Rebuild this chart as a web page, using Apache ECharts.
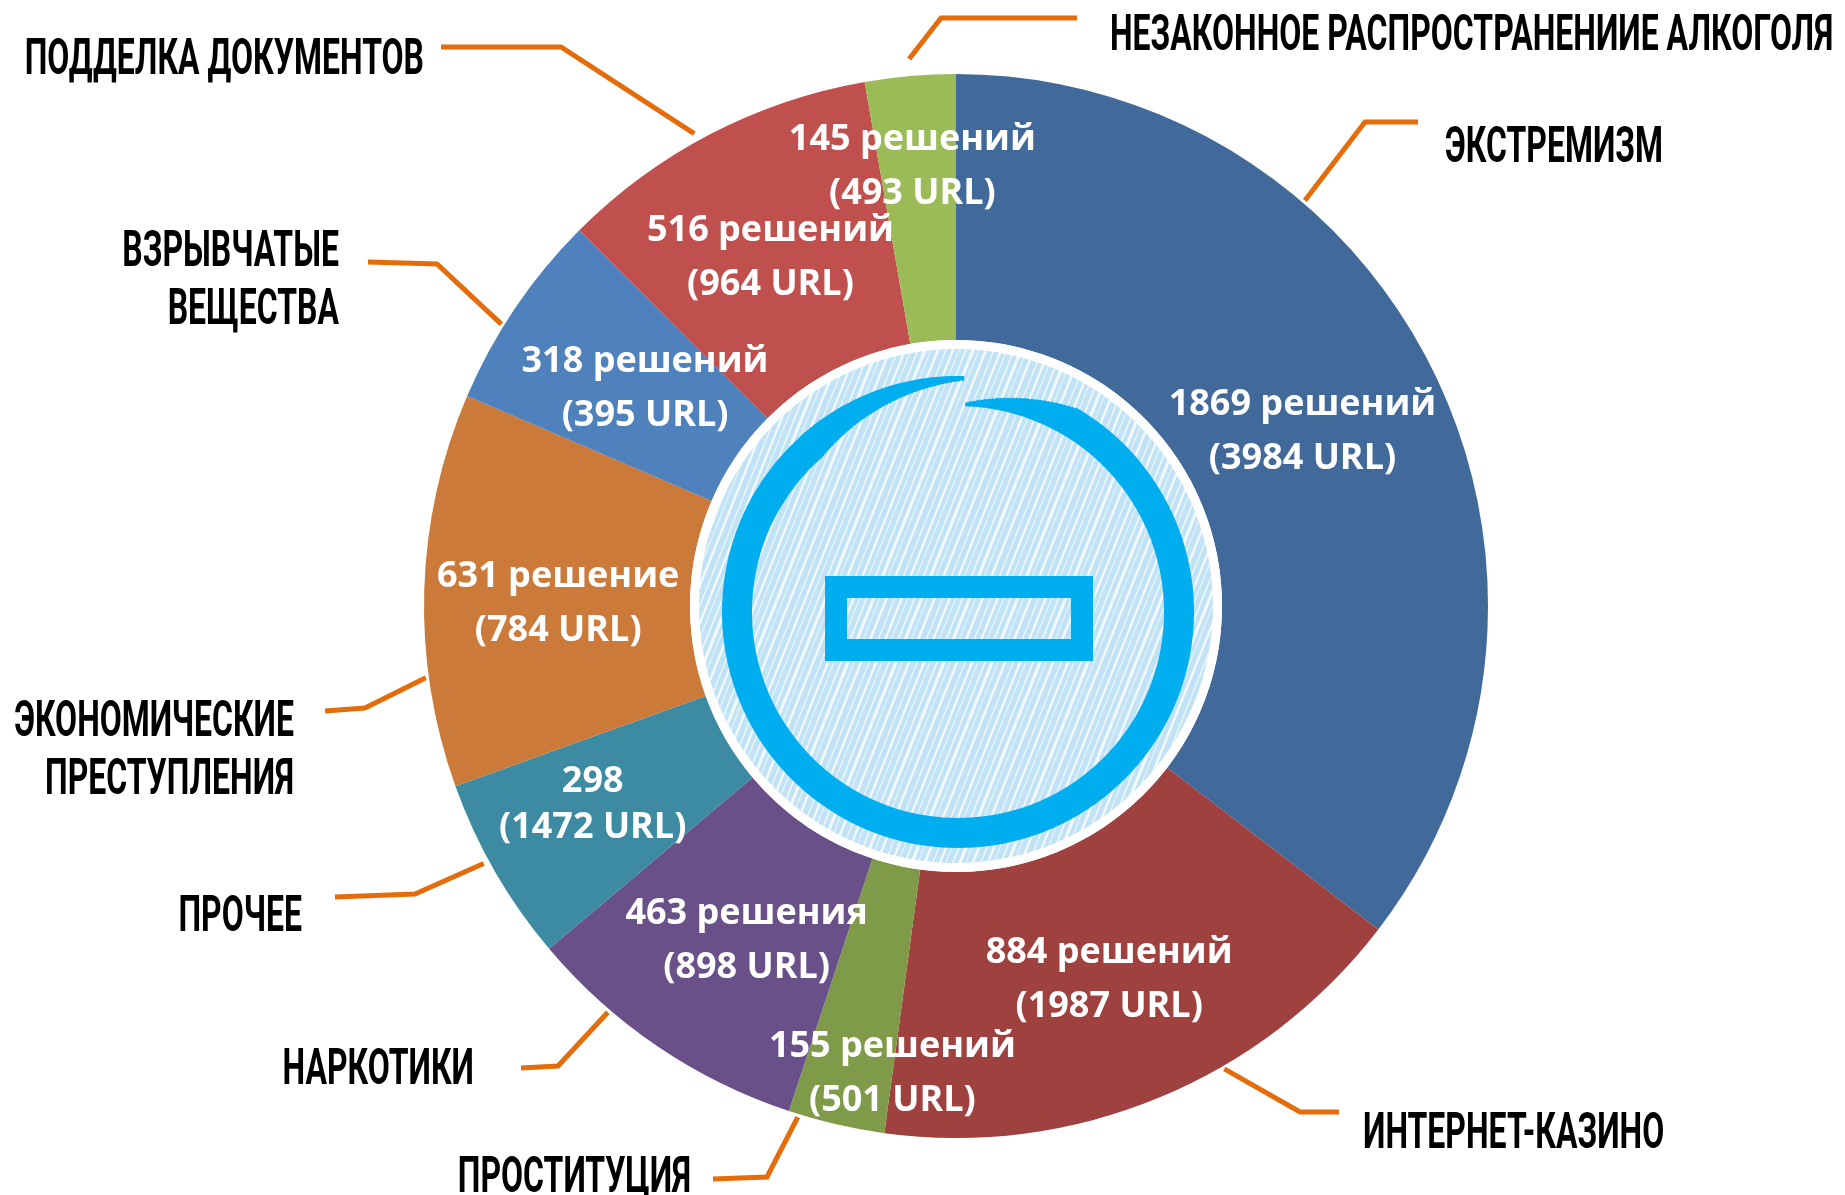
<!DOCTYPE html>
<html>
<head>
<meta charset="utf-8">
<script src="https://cdn.jsdelivr.net/npm/echarts@6/dist/echarts.min.js"></script>
<style>
  html, body { margin: 0; padding: 0; background: #fff; }
  #chart { width: 1845px; height: 1195px; }
</style>
</head>
<body>
<div id="chart"></div>
<script>
// data, clockwise from the top
var categories = ['ЭКСТРЕМИЗМ', 'ИНТЕРНЕТ-КАЗИНО', 'ПРОСТИТУЦИЯ', 'НАРКОТИКИ', 'ПРОЧЕЕ',
  'ЭКОНОМИЧЕСКИЕ\nПРЕСТУПЛЕНИЯ', 'ВЗРЫВЧАТЫЕ\nВЕЩЕСТВА', 'ПОДДЕЛКА ДОКУМЕНТОВ',
  'НЕЗАКОННОЕ РАСПРОСТРАНЕНИИЕ АЛКОГОЛЯ']
var decisions = [1869, 884, 155, 463, 298, 631, 318, 516, 145]
var urls = [3984, 1987, 501, 898, 1472, 784, 395, 964, 493]
var decisionWords = ['решений', 'решений', 'решений', 'решения', '', 'решение', 'решений', 'решений', 'решений']

var colors = ['#41699a', '#9e413f', '#7f9a48', '#6a5088', '#3d8ba3', '#cb7a39', '#4f81bd', '#c0504d', '#9bbb59']

var CX = 956, CY = 606, R0 = 266, R1 = 532

// label nudges for inside labels
var innerShift = [[-14, 4], [0, 2], [27, 76], [16, 2], [-15, -2], [4, 10], [22, 8], [0, 8], [-9, -39]]

// outside labels + leader lines
var outerLayout = [
  { angle: 40.7, r: 535, elbow: [1365, 122], end: [1418, 122], label: [1445, 149], align: 'left' },
  { angle: 149.9, r: 535, elbow: [1300, 1112], end: [1339, 1112], label: [1363, 1135], align: 'left' },
  { angle: 197.2, r: 535, elbow: [767, 1177], end: [713, 1179], label: [691, 1179], align: 'right' },
  { angle: 220.6, r: 535, elbow: [558, 1066], end: [521, 1068], label: [474, 1071], align: 'right' },
  { angle: 241.4, r: 538, elbow: [415, 894], end: [335, 897], label: [302, 918], align: 'right' },
  { angle: 262.3, r: 535, elbow: [365, 708], end: [325, 711], label: [294, 752], align: 'right' },
  { angle: 301.8, r: 535, elbow: [437, 264], end: [368, 262], label: [339, 282], align: 'right' },
  { angle: 331, r: 540, elbow: [561, 47], end: [441, 47], label: [424, 61], align: 'right' },
  { angle: -4.9, r: 549, elbow: [941, 18], end: [1077, 18], label: [1110, 37], align: 'left' }
]
var outerFont = 'bold 50px Roboto'
var outerScaleX = 0.64

var pieData = categories.map(function (name, i) {
  return { name: name, value: decisions[i], itemStyle: { color: colors[i] } }
})

function hatch() {
  var c = document.createElement('canvas')
  c.width = 48
  c.height = 120
  var g = c.getContext('2d')
  g.fillStyle = '#c2e3f5'
  g.fillRect(0, 0, 48, 120)
  var offs = [2, 9, 15, 22, 30, 37, 43]
  var widths = [1.5, 3, 1, 2.5, 1.2, 2.2, 1]
  g.strokeStyle = 'rgba(255,255,255,0.8)'
  offs.forEach(function (x0, k) {
    g.lineWidth = widths[k]
    ;[x0 - 48, x0].forEach(function (x) {
      g.beginPath()
      g.moveTo(x, 120)
      g.lineTo(x + 48, 0)
      g.stroke()
    })
  })
  return c
}

var deg = Math.PI / 180
function ring(r, a0, a1, w) {
  return {
    type: 'arc', z: 12,
    shape: { cx: 958, cy: 612, r: r, startAngle: a0 * deg, endAngle: a1 * deg, clockwise: true },
    style: { stroke: '#00aeef', lineWidth: w, fill: null, lineCap: 'butt' }
  }
}

// brush ring: thick body, tapering ends near the top
var logo = [ring(221, -60, 229, 30)]
for (var a = 228; a < 271; a++) {
  var wl = 30 - (a - 228) * 26 / 43
  logo.push(ring(236 - wl / 2, a, a + 1.5, wl))
}
for (var b = 272; b < 300; b++) {
  var wr = 4 + (b - 272) * 26 / 28
  logo.push(ring(206 + wr / 2, b, b + 1.5, wr))
}
logo.push({ type: 'rect', z: 12, shape: { x: 836, y: 587, width: 246, height: 63 },
  style: { stroke: '#00aeef', lineWidth: 22, fill: null } })

var outerTexts = categories.map(function (name, i) {
  var L = outerLayout[i]
  return {
    type: 'text', z: 20,
    x: L.label[0], y: L.label[1],
    scaleX: outerScaleX,
    style: {
      text: name, font: outerFont, fill: '#000',
      align: L.align, verticalAlign: 'middle', lineHeight: 58
    }
  }
})

var chart = echarts.init(document.getElementById('chart'))
chart.setOption({
  backgroundColor: '#fff',
  animation: false,
  series: [
    {
      type: 'pie',
      center: [CX, CY],
      radius: [R0, R1],
      startAngle: 90,
      avoidLabelOverlap: false,
      silent: true,
      data: pieData.map(function (d, i) {
        return i === 4 ? Object.assign({ label: { lineHeight: 46 } }, d) : d
      }),
      label: {
        position: 'inside',
        color: '#fff',
        fontFamily: 'Open Sans',
        fontWeight: 'bold',
        fontSize: 36,
        lineHeight: 54,
        formatter: function (p) {
          var i = p.dataIndex
          var w = decisionWords[i] ? ' ' + decisionWords[i] : ''
          return decisions[i] + w + '\n(' + urls[i] + ' URL)'
        }
      },
      labelLayout: function (p) {
        return { dx: innerShift[p.dataIndex][0], dy: innerShift[p.dataIndex][1] }
      },
      labelLine: { show: false }
    },
    {
      type: 'pie',
      center: [CX, CY],
      radius: [R0, R1],
      startAngle: 90,
      avoidLabelOverlap: false,
      silent: true,
      data: pieData.map(function (d) {
        return { name: d.name, value: d.value, itemStyle: { color: 'rgba(0,0,0,0)' } }
      }),
      label: {
        position: 'outside',
        color: 'rgba(0,0,0,0)',
        fontSize: 20,
        formatter: '{b}'
      },
      labelLine: {
        show: true,
        lineStyle: { color: '#e46c0a', width: 5 }
      },
      labelLayout: function (p) {
        var L = outerLayout[p.dataIndex]
        var a = L.angle * deg
        var start = [CX + L.r * Math.sin(a), CY - L.r * Math.cos(a)]
        return {
          x: L.label[0],
          y: L.label[1],
          align: L.align,
          verticalAlign: 'middle',
          labelLinePoints: [start, L.elbow, L.end]
        }
      }
    }
  ],
  graphic: [
    { type: 'circle', z: 10, shape: { cx: CX, cy: CY, r: R0 }, style: { fill: '#fff' } },
    { type: 'circle', z: 11, shape: { cx: CX, cy: CY, r: R0 - 9 }, style: { fill: { image: hatch(), repeat: 'repeat' } } }
  ].concat(logo).concat(outerTexts)
})
</script>
</body>
</html>
